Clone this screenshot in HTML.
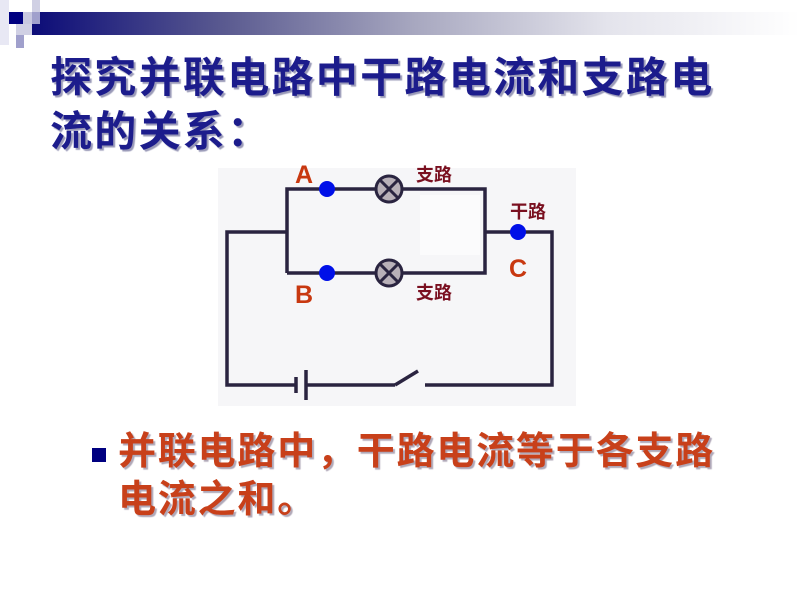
<!DOCTYPE html>
<html><head><meta charset="utf-8"><style>
body{margin:0;width:800px;height:600px;background:#fff;overflow:hidden;position:relative;font-family:"Liberation Sans","Noto Sans CJK SC",sans-serif}
.t{position:absolute;left:50px;font-size:42px;font-weight:bold;color:#1c1c8c;letter-spacing:2.3px;white-space:nowrap;text-shadow:2px 2px 1px #9a9ab8;line-height:54px}
.b{position:absolute;left:118px;font-size:38px;font-weight:bold;color:#c8401a;letter-spacing:1.8px;white-space:nowrap;text-shadow:2px 2px 1px #b0a8b8;line-height:48px}
</style></head><body>
<div style="position:absolute;left:32px;top:12px;width:768px;height:23px;background:linear-gradient(to right,#0c0c78,#5a5a90 25%,#a8a8c0 50%,#e4e4ec 75%,#fff)"></div>
<div style="position:absolute;left:0;top:0;width:9px;height:45px;background:#e8e8f4"></div>
<div style="position:absolute;left:9px;top:12px;width:14px;height:12px;background:#000080"></div>
<div style="position:absolute;left:23px;top:12px;width:9px;height:12px;background:#c8c8e0"></div>
<div style="position:absolute;left:32px;top:0;width:8px;height:24px;background:#d0d0e4"></div>
<div style="position:absolute;left:32px;top:12px;width:8px;height:12px;background:#a0a0cc"></div>
<div style="position:absolute;left:16px;top:24px;width:16px;height:11px;background:#d0d0e4"></div>
<div style="position:absolute;left:16px;top:35px;width:8px;height:13px;background:#a0a0cc"></div>
<div class="t" style="top:51px">探究并联电路中干路电流和支路电</div>
<div class="t" style="top:105px">流的关系：</div>
<svg style="position:absolute;left:0;top:0" width="800" height="600">
<rect x="218" y="168" width="358" height="238" fill="#f6f6f8"/>
<rect x="420" y="195" width="60" height="60" fill="#fbfbfc"/>
<g stroke="#2a2440" stroke-width="3.5" fill="none">
<polyline points="287,273 287,189 485,189 485,273 287,273"/>
<polyline points="287,232 227,232 227,385 296,385"/>
<polyline points="485,232 552,232 552,385 425,385"/>
<line x1="305" y1="385" x2="395" y2="385"/>
<line x1="395" y1="385" x2="418" y2="371"/>
<line x1="296" y1="377" x2="296" y2="393"/>
<line x1="306" y1="370" x2="306" y2="400"/>
</g>
<g stroke="#2a2440" stroke-width="3" fill="#b8b0b8">
<circle cx="389" cy="189" r="13"/><circle cx="389" cy="273" r="13"/>
<path d="M380 180L398 198M398 180L380 198M380 264L398 282M398 264L380 282"/>
</g>
<g fill="#0010e8"><circle cx="327" cy="189" r="8"/><circle cx="327" cy="273" r="8"/><circle cx="518" cy="232" r="8"/></g>
<g font-family="Liberation Sans,sans-serif" font-weight="bold" font-size="25" fill="#c83810">
<text x="295" y="183">A</text><text x="295" y="303">B</text><text x="509" y="277">C</text></g>
<g font-family="Liberation Sans,Noto Sans CJK SC,sans-serif" font-weight="bold" font-size="18" fill="#7a1020">
<text x="416" y="181">支路</text><text x="416" y="299">支路</text><text x="510" y="218">干路</text></g>
</svg>
<div style="position:absolute;left:92px;top:448px;width:14px;height:14px;background:#000080"></div>
<div class="b" style="top:428px">并联电路中，干路电流等于各支路</div>
<div class="b" style="top:476px">电流之和。</div>
</body></html>
